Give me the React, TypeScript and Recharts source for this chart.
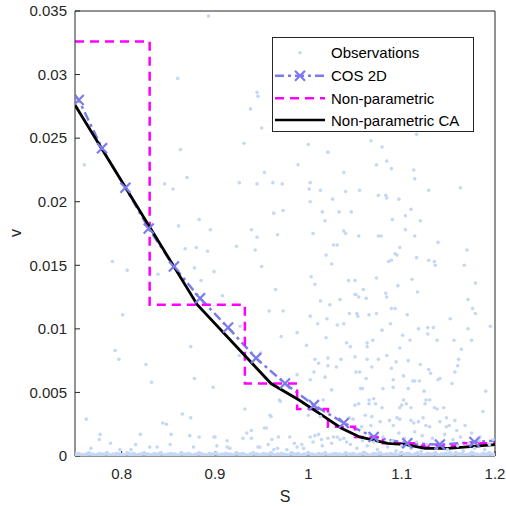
import { ComposedChart, Line, Scatter, XAxis, YAxis } from "recharts";

const AXIS = "#262626";
const OBS_COLOR = "#c4d8f4";
const COS_COLOR = "#7b7bec";
const NP_COLOR = "#ff00ff";
const CA_COLOR = "#000000";
const FONT = "'Liberation Sans', Arial, sans-serif";

const X_TICKS = [0.8, 0.9, 1, 1.1, 1.2];
const Y_TICKS = [0, 0.005, 0.01, 0.015, 0.02, 0.025, 0.03, 0.035];

// COS 2D estimate (dash-dot with x markers)
const COS_S = [0.75, 0.754, 0.779, 0.804, 0.829, 0.856, 0.884, 0.914, 0.944, 0.975, 1.006, 1.038, 1.07, 1.106, 1.141, 1.178, 1.2];
const COS_V = [0.0284, 0.028, 0.0242, 0.0211, 0.0179, 0.0149, 0.0124, 0.0101, 0.0077, 0.0057, 0.004, 0.0026, 0.0015, 0.001, 0.0009, 0.0011, 0.0012];

// Non-parametric step estimate
const NP_S = [0.75, 0.83, 0.932, 0.988, 1.021, 1.05, 1.08, 1.12, 1.16, 1.2];
const NP_V = [0.0326, 0.0119, 0.0057, 0.0037, 0.0023, 0.0015, 0.001, 0.0008, 0.001, 0.001];

// Non-parametric CA
const CA_S = [0.75, 0.881, 0.96, 0.99, 1.015, 1.035, 1.055, 1.085, 1.105, 1.125, 1.15, 1.2];
const CA_V = [0.0276, 0.0119, 0.0057, 0.0044, 0.0032, 0.0022, 0.0015, 0.001, 0.0009, 0.0006, 0.0006, 0.0009];

// observations, scattered cloud
const OBS_CLOUD: [number, number][] = [
  [0.893, 0.0346], [0.86, 0.0297], [0.945, 0.0286], [0.946, 0.0283], [0.938, 0.0273], [0.95, 0.0258],
  [0.931, 0.0246], [0.863, 0.0241], [0.76, 0.0229], [0.953, 0.0223], [0.87, 0.0219], [0.846, 0.0214],
  [0.855, 0.021], [0.926, 0.0215], [0.945, 0.0214], [0.962, 0.0215], [0.972, 0.0214], [0.883, 0.0186],
  [0.861, 0.0181], [0.895, 0.0178], [0.939, 0.0178], [0.945, 0.0172], [0.963, 0.0191], [0.973, 0.0193],
  [0.967, 0.0174], [0.868, 0.0163], [0.88, 0.0164], [0.892, 0.0161], [0.923, 0.0165], [0.943, 0.0162],
  [0.79, 0.0153], [0.806, 0.0146], [0.839, 0.0143], [0.878, 0.0148], [0.899, 0.0145], [0.95, 0.0149],
  [0.885, 0.0138], [0.908, 0.0126], [0.965, 0.0131],
  [0.801, 0.0111], [0.793, 0.0083], [0.797, 0.0076], [0.826, 0.0072], [0.832, 0.0058], [0.874, 0.0086],
  [0.878, 0.0061], [0.898, 0.0054], [0.926, 0.0079], [0.958, 0.0114], [0.927, 0.0102], [0.959, 0.0032],
  [0.969, 0.0044], [0.762, 0.0029], [0.865, 0.0033], [0.874, 0.003], [0.844, 0.0026], [0.848, 0.0025],
  [0.932, 0.0037], [0.934, 0.0018], [0.939, 0.002], [0.953, 0.0022], [0.777, 0.0017], [0.776, 0.0013],
  [0.788, 0.001], [0.82, 0.0017], [0.853, 0.0017], [0.873, 0.0016], [0.899, 0.0015], [0.913, 0.0012],
  [0.961, 0.0013], [0.767, 0.0006], [0.798, 0.0005], [0.83, 0.0007], [0.838, 0.0007], [0.877, 0.0007],
  [0.902, 0.0008], [0.916, 0.0006], [0.948, 0.0007], [0.963, 0.0005], [0.815, 0.0009], [0.852, 0.0009],
  [0.883, 0.0015], [0.81, 0.0005],
  [1.0, 0.0245], [1.021, 0.0239], [1.067, 0.0248], [1.079, 0.0243], [1.116, 0.0253], [0.989, 0.0229],
  [1.038, 0.0223], [1.073, 0.0229], [1.084, 0.0232], [1.089, 0.0226], [1.113, 0.0225], [1.114, 0.0218],
  [1.002, 0.0215], [1.001, 0.021], [1.013, 0.0209], [1.04, 0.0208], [1.055, 0.0209], [1.075, 0.0205],
  [1.083, 0.0205], [1.084, 0.0203], [1.097, 0.0202], [1.129, 0.0209], [1.163, 0.0211], [1.002, 0.02],
  [1.026, 0.0202], [1.015, 0.0192], [1.033, 0.0192], [1.046, 0.0192], [1.018, 0.0185], [1.11, 0.0194],
  [1.104, 0.0189], [1.09, 0.0186], [1.12, 0.0185], [1.005, 0.0175], [1.038, 0.0177], [1.04, 0.0175],
  [1.054, 0.0173], [1.075, 0.0173], [1.078, 0.0173], [1.104, 0.0178], [1.114, 0.0173], [1.139, 0.0168],
  [1.027, 0.0166], [1.031, 0.0166], [1.098, 0.0164], [1.019, 0.0158], [1.093, 0.0159], [1.095, 0.0158],
  [1.025, 0.0151], [1.086, 0.0153], [1.089, 0.0154], [1.116, 0.0156], [1.129, 0.0154], [1.135, 0.0153],
  [1.136, 0.015], [1.167, 0.015], [1.17, 0.0162], [1.003, 0.0141], [1.007, 0.0135], [1.043, 0.0138],
  [1.05, 0.0138], [1.073, 0.014], [1.111, 0.0139], [1.096, 0.0134], [1.059, 0.0131], [1.117, 0.0129],
  [1.179, 0.0136], [1.051, 0.0127], [1.083, 0.0128], [1.084, 0.0125], [1.054, 0.0125], [1.062, 0.0124],
  [1.013, 0.0122], [1.023, 0.0119], [0.973, 0.0114], [1.034, 0.0123], [1.002, 0.011], [1.01, 0.0104],
  [1.02, 0.0108], [1.031, 0.0103], [1.038, 0.0104], [0.988, 0.0097], [1.019, 0.0093], [0.971, 0.0094],
  [0.998, 0.0087], [0.949, 0.0081], [1.007, 0.0076], [1.011, 0.0073], [1.021, 0.0077], [1.035, 0.0076],
  [1.021, 0.0071], [1.03, 0.007], [0.988, 0.0064], [1.002, 0.006], [1.006, 0.0066], [1.018, 0.0062],
  [1.025, 0.0052], [0.97, 0.0043], [0.96, 0.0031], [1.016, 0.0044], [1.0, 0.0032], [1.013, 0.0031],
  [0.955, 0.0022], [0.939, 0.0014], [0.93, 0.0014], [0.9, 0.0015], [0.913, 0.0007], [0.946, 0.0007],
  [0.957, 0.0009], [0.968, 0.0015], [0.98, 0.0015], [1.002, 0.0015], [1.007, 0.0016], [1.011, 0.0017],
  [1.014, 0.0013], [1.021, 0.0014], [1.027, 0.0015], [1.031, 0.0015], [1.034, 0.0013], [1.038, 0.0014],
  [1.041, 0.0011], [0.988, 0.0007], [0.993, 0.0009], [0.977, 0.0005], [0.967, 0.0006],
  [1.05, 0.0127], [1.171, 0.0123], [1.044, 0.0112], [1.052, 0.0112], [1.053, 0.011], [1.065, 0.0111],
  [1.073, 0.0112], [1.089, 0.0116], [1.093, 0.0116], [1.106, 0.0111], [1.152, 0.0108], [1.176, 0.0116],
  [1.179, 0.0112], [1.079, 0.0099], [1.088, 0.0104], [1.118, 0.01], [1.128, 0.0101], [1.128, 0.0096],
  [1.134, 0.0101], [1.171, 0.01], [1.195, 0.0102], [1.101, 0.0095], [1.069, 0.0091], [1.063, 0.0089],
  [1.063, 0.0086], [1.041, 0.0089], [1.109, 0.0091], [1.138, 0.0091], [1.156, 0.0091], [1.175, 0.0091],
  [1.164, 0.0084], [1.045, 0.0086], [1.098, 0.0085], [1.084, 0.0079], [1.05, 0.0078], [1.063, 0.0076],
  [1.075, 0.0076], [1.094, 0.0074], [1.107, 0.0075], [1.12, 0.0072], [1.161, 0.0076], [1.051, 0.0066],
  [1.055, 0.0066], [1.068, 0.007], [1.089, 0.0069], [1.102, 0.0063], [1.112, 0.0059], [1.114, 0.0059],
  [1.119, 0.0059], [1.129, 0.0068], [1.131, 0.0065], [1.139, 0.006], [1.141, 0.0061], [1.157, 0.0066],
  [1.16, 0.0071], [1.154, 0.0057], [1.062, 0.0061], [1.058, 0.0053], [1.056, 0.0053], [1.08, 0.0053],
  [1.091, 0.006], [1.091, 0.0054], [1.107, 0.0053], [1.124, 0.0051], [1.19, 0.0051], [1.05, 0.004],
  [1.054, 0.0041], [1.065, 0.0044], [1.07, 0.0045], [1.065, 0.0041], [1.072, 0.0041], [1.102, 0.0044],
  [1.105, 0.0041], [1.079, 0.0038], [1.098, 0.0038], [1.1, 0.004], [1.11, 0.0038], [1.126, 0.0044],
  [1.13, 0.0044], [1.125, 0.0041], [1.135, 0.0038], [1.138, 0.0037], [1.145, 0.0038], [1.187, 0.0035],
  [1.044, 0.003], [1.048, 0.0029], [1.061, 0.0032], [1.068, 0.0031], [1.077, 0.0027], [1.087, 0.0028],
  [1.095, 0.003], [1.098, 0.0029], [1.11, 0.0028], [1.118, 0.0027], [1.123, 0.003], [1.126, 0.0024],
  [1.148, 0.003], [1.141, 0.0027], [1.157, 0.0028], [1.168, 0.0024], [1.148, 0.0023], [1.151, 0.0024],
  [1.057, 0.0023], [1.067, 0.0024], [1.091, 0.0024], [1.113, 0.0026], [1.114, 0.0019], [1.13, 0.0023],
  [1.159, 0.002], [1.175, 0.0018], [1.184, 0.0015],
  [0.985, 0.001], [0.995, 0.0006], [1.005, 0.0011], [1.015, 0.0008], [1.025, 0.001], [1.045, 0.0009],
  [1.052, 0.0006], [1.058, 0.0012], [1.063, 0.0008], [1.07, 0.0011], [1.074, 0.0005], [1.08, 0.0015],
  [1.085, 0.0007], [1.09, 0.0012], [1.094, 0.0004], [1.1, 0.0008], [1.103, 0.0014], [1.11, 0.0006],
  [1.116, 0.0011], [1.121, 0.0004], [1.127, 0.0009], [1.133, 0.0014], [1.137, 0.0006], [1.143, 0.0011],
  [1.149, 0.0005], [1.155, 0.0013], [1.16, 0.0008], [1.166, 0.0004], [1.172, 0.001], [1.178, 0.0006],
  [1.183, 0.0012], [1.189, 0.0005], [1.194, 0.0009], [1.198, 0.0013], [1.066, 0.0017], [1.097, 0.0018],
  [1.122, 0.0016], [1.146, 0.0017], [1.163, 0.0015], [1.06, 0.0003], [1.108, 0.0002], [1.152, 0.0003],
  [1.175, 0.0003],
];

// observations piled up right at v ~ 0
const OBS_FLOOR: [number, number][] = [
  [0.751, 0.0001], [0.754, 0.00015], [0.758, 0.00005], [0.762, 0.0001], [0.765, 0.0002], [0.769, 0.0001],
  [0.773, 0.00005], [0.776, 0.00015], [0.78, 0.0001], [0.784, 0.0002], [0.787, 0.00005], [0.791, 0.0001],
  [0.795, 0.00015], [0.798, 0.0001], [0.802, 0.00005], [0.806, 0.0002], [0.809, 0.0001], [0.813, 0.00015],
  [0.817, 0.00005], [0.82, 0.0001], [0.824, 0.0002], [0.828, 0.0001], [0.831, 0.00005], [0.835, 0.00015],
  [0.839, 0.0001], [0.842, 0.0002], [0.846, 0.00005], [0.85, 0.0001], [0.853, 0.00015], [0.857, 0.0001],
  [0.861, 0.00005], [0.864, 0.0002], [0.868, 0.0001], [0.872, 0.00015], [0.875, 0.00005], [0.879, 0.0001],
  [0.883, 0.0002], [0.886, 0.0001], [0.89, 0.00005], [0.894, 0.00015], [0.897, 0.0001], [0.901, 0.0002],
  [0.905, 0.00005], [0.908, 0.0001], [0.912, 0.00015], [0.916, 0.0001], [0.919, 0.00005], [0.923, 0.0002],
  [0.927, 0.0001], [0.93, 0.00015], [0.934, 0.00005], [0.938, 0.0001], [0.941, 0.0002], [0.945, 0.0001],
  [0.949, 0.00005], [0.952, 0.00015], [0.956, 0.0001], [0.96, 0.0002], [0.963, 0.00005], [0.967, 0.0001],
  [0.971, 0.00015], [0.974, 0.0001], [0.978, 0.00005], [0.982, 0.0002], [0.985, 0.0001], [0.989, 0.00015],
  [0.993, 0.00005], [0.996, 0.0001], [1.0, 0.0002], [1.004, 0.0001], [1.007, 0.00005], [1.011, 0.00015],
  [1.015, 0.0001], [1.018, 0.0002], [1.022, 0.00005], [1.026, 0.0001], [1.029, 0.00015], [1.033, 0.0001],
  [1.037, 0.00005], [1.04, 0.0002], [1.044, 0.0001], [1.048, 0.00015], [1.051, 0.00005], [1.055, 0.0001],
  [1.059, 0.0002], [1.062, 0.0001], [1.066, 0.00005], [1.07, 0.00015], [1.073, 0.0001], [1.077, 0.0002],
  [1.081, 0.00005], [1.084, 0.0001], [1.088, 0.00015], [1.092, 0.0001], [1.095, 0.00005], [1.099, 0.0002],
  [1.103, 0.0001], [1.106, 0.00015], [1.11, 0.00005], [1.114, 0.0001], [1.117, 0.0002], [1.121, 0.0001],
  [1.125, 0.00005], [1.128, 0.00015], [1.132, 0.0001], [1.136, 0.0002], [1.139, 0.00005], [1.143, 0.0001],
  [1.147, 0.00015], [1.15, 0.0001], [1.154, 0.00005], [1.158, 0.0002], [1.161, 0.0001], [1.165, 0.00015],
  [1.169, 0.00005], [1.172, 0.0001], [1.176, 0.0002], [1.18, 0.0001], [1.183, 0.00005], [1.187, 0.00015],
  [1.191, 0.0001], [1.194, 0.0002], [1.198, 0.0001],
];

const toPoints = (s: number[], v: number[]) => s.map((x, i) => ({ s: x, v: v[i] }));
const floorData = OBS_FLOOR.map(([s, v]) => ({ s, v }));
const cloudData = OBS_CLOUD.map(([s, v]) => ({ s, v }));
const cosData = toPoints(COS_S, COS_V);
const npData = toPoints(NP_S, NP_V);
const caData = toPoints(CA_S, CA_V);

const tickStyle = { fontSize: 15, fill: AXIS, fontFamily: FONT };

function ObsDot(props: any) {
  return <circle cx={props.cx} cy={props.cy} r={1.8} fill={OBS_COLOR} />;
}

function FloorDot(props: any) {
  return <circle cx={props.cx} cy={props.cy} r={2.4} fill={OBS_COLOR} />;
}

function crossPath(cx: number, cy: number, r: number) {
  return `M${cx - r},${cy - r}L${cx + r},${cy + r}M${cx - r},${cy + r}L${cx + r},${cy - r}`;
}

function CosDot(props: any) {
  const { cx, cy, index } = props;
  if (cx == null || index === 0 || index === COS_S.length - 1) return <g key={`cd${index}`} />;
  return (
    <path key={`cd${index}`} d={crossPath(cx, cy, 5)} stroke={COS_COLOR} strokeWidth={2.2} fill="none" />
  );
}

function LegendBox() {
  const x0 = 275;
  const x1 = 325;
  const rows = [52.7, 75.7, 98.3, 120];
  const text = { fontSize: 15, fill: "#000", fontFamily: FONT, dominantBaseline: "central" as const };
  return (
    <svg width={506} height={506} style={{ position: "absolute", left: 0, top: 0, pointerEvents: "none" }}>
      <rect x={272.5} y={37.5} width={201} height={94} fill="#fff" stroke={AXIS} strokeWidth={1} />
      <circle cx={300} cy={rows[0]} r={1.8} fill={OBS_COLOR} />
      <text x={331} y={rows[0]} {...text}>Observations</text>
      <line x1={x0} x2={x1} y1={rows[1]} y2={rows[1]} stroke={COS_COLOR} strokeWidth={2.5} strokeDasharray="9 4 3 4" />
      <path d={crossPath(300, rows[1], 5)} stroke={COS_COLOR} strokeWidth={2.2} fill="none" />
      <text x={331} y={rows[1]} {...text}>COS 2D</text>
      <line x1={x0} x2={x1} y1={rows[2]} y2={rows[2]} stroke={NP_COLOR} strokeWidth={2.5} strokeDasharray="9 6" />
      <text x={331} y={rows[2]} {...text}>Non-parametric</text>
      <line x1={x0} x2={x1} y1={rows[3]} y2={rows[3]} stroke={CA_COLOR} strokeWidth={2.5} />
      <text x={331} y={rows[3]} {...text}>Non-parametric CA</text>
      <text x={285} y={502} textAnchor="middle" fontSize={16} fill={AXIS} fontFamily={FONT}>S</text>
      <text x={15} y={233} textAnchor="middle" dominantBaseline="central" fontSize={16} fill={AXIS} fontFamily={FONT}
        transform="rotate(-90 15 233)">v</text>
    </svg>
  );
}

export default function App() {
  return (
    <div style={{ position: "absolute", left: 0, top: 0, width: 506, height: 506, background: "#fff" }}>
      <ComposedChart width={506} height={506} margin={{ top: 10, right: 10, bottom: 0, left: 0 }}>
        <XAxis
          dataKey="s"
          type="number"
          domain={[0.75, 1.2]}
          ticks={X_TICKS}
          height={50}
          allowDataOverflow
          stroke={AXIS}
          tickSize={-5}
          tickMargin={17}
          tick={tickStyle}
        />
        <XAxis
          xAxisId="top"
          orientation="top"
          type="number"
          domain={[0.75, 1.2]}
          ticks={X_TICKS}
          height={1}
          stroke={AXIS}
          tickSize={-5}
          tick={false}
        />
        <YAxis
          dataKey="v"
          type="number"
          domain={[0, 0.035]}
          ticks={Y_TICKS}
          width={75}
          allowDataOverflow
          stroke={AXIS}
          tickSize={-5}
          tickMargin={13}
          tick={tickStyle}
        />
        <YAxis
          yAxisId="right"
          orientation="right"
          type="number"
          domain={[0, 0.035]}
          ticks={Y_TICKS}
          width={1}
          stroke={AXIS}
          tickSize={-5}
          tick={false}
        />
        <Scatter data={floorData} dataKey="v" shape={FloorDot} isAnimationActive={false} />
        <Scatter data={cloudData} dataKey="v" shape={ObsDot} isAnimationActive={false} />
        <Line
          data={cosData}
          dataKey="v"
          type="linear"
          stroke={COS_COLOR}
          strokeWidth={2.5}
          strokeDasharray="9 4 3 4"
          dot={CosDot}
          activeDot={false}
          isAnimationActive={false}
        />
        <Line
          data={npData}
          dataKey="v"
          type="stepAfter"
          stroke={NP_COLOR}
          strokeWidth={2.5}
          strokeDasharray="9 6"
          dot={false}
          activeDot={false}
          isAnimationActive={false}
        />
        <Line
          data={caData}
          dataKey="v"
          type="linear"
          stroke={CA_COLOR}
          strokeWidth={2.8}
          dot={false}
          activeDot={false}
          isAnimationActive={false}
        />
      </ComposedChart>
      <LegendBox />
    </div>
  );
}
